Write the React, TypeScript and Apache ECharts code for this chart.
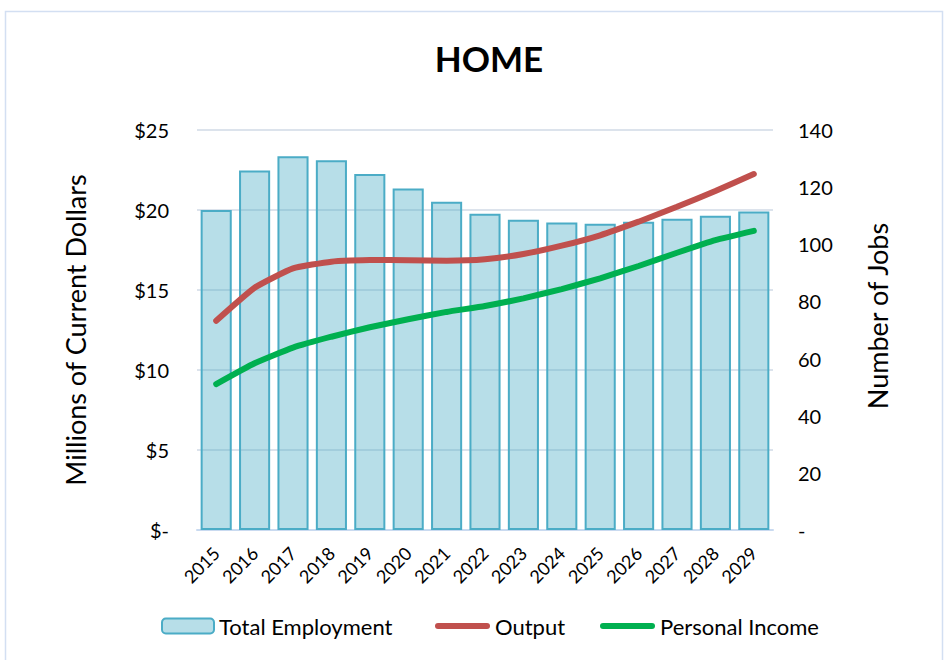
import React, { useEffect, useRef } from "react";
import * as echarts from "echarts";

const years = ["2015", "2016", "2017", "2018", "2019", "2020", "2021", "2022", "2023", "2024", "2025", "2026", "2027", "2028", "2029"];
const totalEmployment = [112, 125.8, 130.8, 129.4, 124.6, 119.5, 114.9, 110.7, 108.6, 107.6, 107.2, 107.9, 108.9, 110, 111.5];
const output = [13.08, 15.14, 16.35, 16.77, 16.88, 16.86, 16.83, 16.92, 17.25, 17.77, 18.42, 19.27, 20.2, 21.19, 22.25];
const personalIncome = [9.12, 10.42, 11.4, 12.08, 12.67, 13.17, 13.63, 14.0, 14.48, 15.06, 15.73, 16.5, 17.33, 18.12, 18.7];

const FONT = "Lato, 'Liberation Sans', sans-serif";
const LINE_ICON = "path://M3,0 L52,0 A3,3 0 0 1 52,6 L3,6 A3,3 0 0 1 3,0 Z";

export default function App() {
  const ref = useRef<HTMLDivElement>(null);
  useEffect(() => {
    document.body.style.margin = "0";
    const chart = echarts.init(ref.current!, null, { renderer: "svg" });
    const legendBase = {
      top: 615,
      padding: 0,
      itemHeight: 15,
      itemGap: 10,
      textStyle: { fontFamily: FONT, fontSize: 22, color: "#000" },
    };
    chart.setOption({
      animation: false,
      backgroundColor: "#ffffff",
      title: {
        text: "HOME",
        left: 484,
        textAlign: "center",
        top: 35,
        textStyle: { fontFamily: FONT, fontSize: 35, fontWeight: "bold", color: "#000" },
      },
      graphic: [
        {
          type: "rect",
          shape: { x: 5.5, y: 11.5, width: 937, height: 660 },
          style: { fill: "none", stroke: "#D3DFF2", lineWidth: 1.5 },
          silent: true,
        },
        {
          type: "text",
          x: 877,
          y: 316,
          rotation: Math.PI / 2,
          style: {
            text: "Number of Jobs",
            font: "27px " + FONT,
            fill: "#000",
            textAlign: "center",
            textVerticalAlign: "middle",
          },
          silent: true,
        },
      ],
      legend: [
        {
          ...legendBase,
          left: 161,
          itemWidth: 52,
          data: ["Total Employment"],
        },
        {
          ...legendBase,
          left: 435,
          itemWidth: 55,
          data: [{ name: "Output", icon: LINE_ICON, itemStyle: { color: "#C0504D", borderWidth: 0 } }],
        },
        {
          ...legendBase,
          left: 600,
          itemWidth: 55,
          data: [{ name: "Personal Income", icon: LINE_ICON, itemStyle: { color: "#00B050", borderWidth: 0 } }],
        },
      ],
      grid: { left: 197, right: 175, top: 130, bottom: 130 },
      xAxis: {
        type: "category",
        data: years,
        axisTick: { show: false },
        axisLine: { lineStyle: { color: "#C9DAF0", width: 2 } },
        axisLabel: {
          rotate: 45,
          interval: 0,
          fontFamily: FONT,
          fontSize: 18,
          color: "#000",
          margin: 20,
        },
      },
      yAxis: [
        {
          type: "value",
          min: 0,
          max: 25,
          interval: 5,
          name: "Millions of Current Dollars",
          nameLocation: "middle",
          nameGap: 108,
          nameTextStyle: { fontFamily: FONT, fontSize: 27, color: "#000" },
          axisLine: { show: false },
          axisTick: { show: false },
          axisLabel: {
            fontFamily: FONT,
            fontSize: 20,
            color: "#000",
            margin: 28,
            formatter: (v: number) => (v === 0 ? "$-" : "$" + v),
          },
          splitLine: { lineStyle: { color: "#DCE3EC", width: 2 } },
        },
        {
          type: "value",
          min: 0,
          max: 140,
          interval: 20,
          axisLine: { show: false },
          axisTick: { show: false },
          axisLabel: {
            fontFamily: FONT,
            fontSize: 20,
            color: "#000",
            margin: 25,
            formatter: (v: number) => (v === 0 ? "-" : String(v)),
          },
          splitLine: { show: false },
        },
      ],
      series: [
        {
          name: "Total Employment",
          type: "bar",
          yAxisIndex: 1,
          data: totalEmployment,
          barCategoryGap: "19%",
          itemStyle: { color: "rgba(75,172,198,0.4)", borderColor: "#4BACC6", borderWidth: 2 },
          z: 1,
        },
        {
          name: "Output",
          type: "line",
          yAxisIndex: 0,
          data: output,
          symbol: "none",
          smooth: 0.15,
          lineStyle: { color: "#C0504D", width: 6, cap: "round" },
          itemStyle: { color: "#C0504D" },
          z: 3,
        },
        {
          name: "Personal Income",
          type: "line",
          yAxisIndex: 0,
          data: personalIncome,
          symbol: "none",
          smooth: 0.15,
          lineStyle: { color: "#00B050", width: 6, cap: "round" },
          itemStyle: { color: "#00B050" },
          z: 3,
        },
      ],
    });
    return () => chart.dispose();
  }, []);
  return <div ref={ref} style={{ width: 948, height: 660 }} />;
}
